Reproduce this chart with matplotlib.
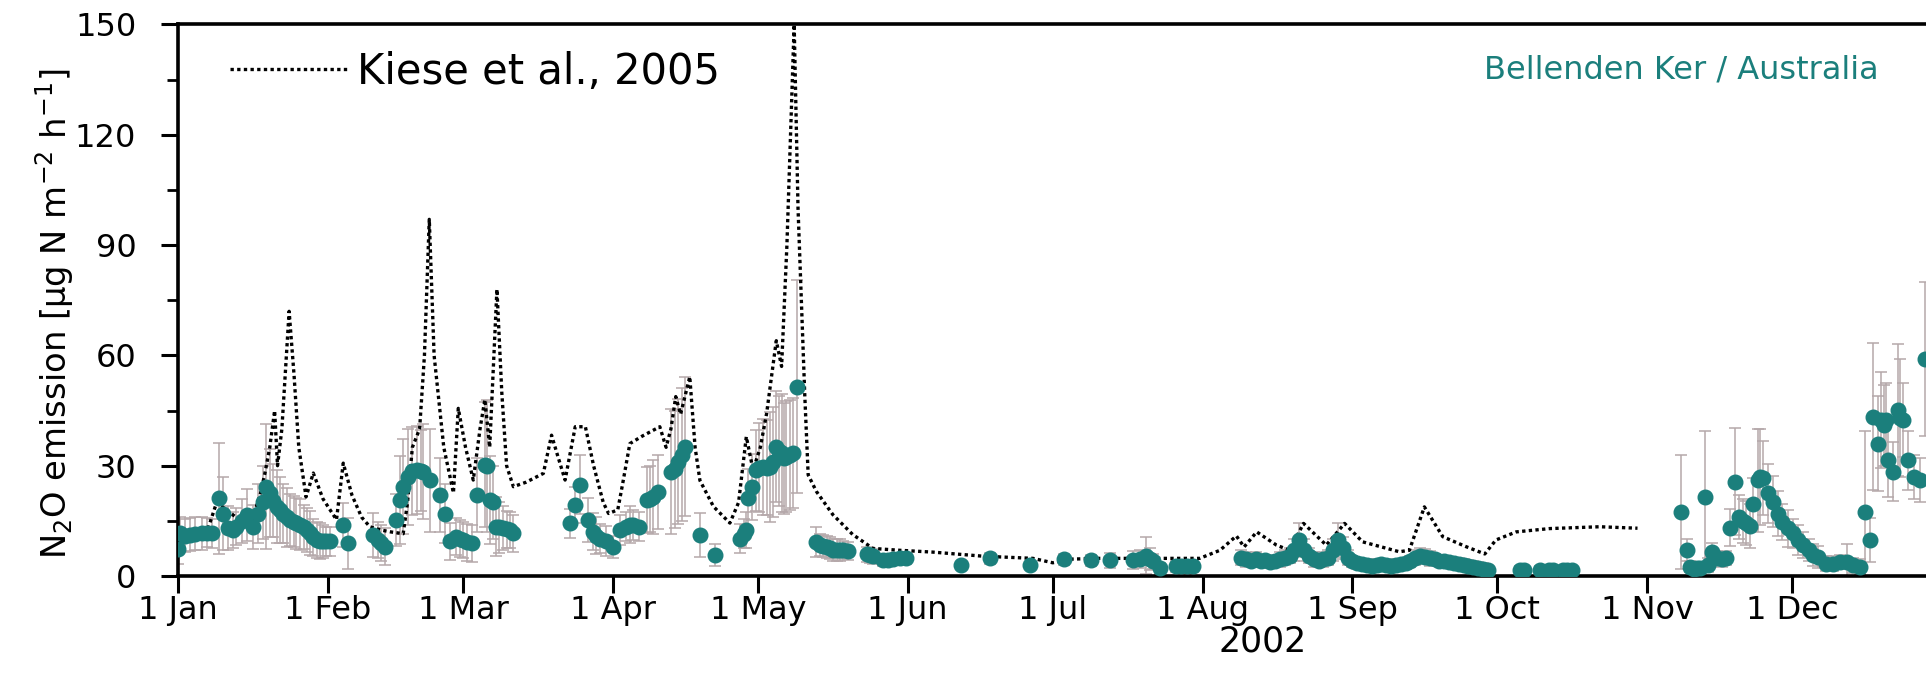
import matplotlib
matplotlib.use("Agg")
import matplotlib.pyplot as plt
from matplotlib.ticker import MultipleLocator, FixedLocator

# --- Kiese et al. (2005) model output: day of year 2002 (0 = 1 Jan) and N2O flux
model_day = [0, 3, 6, 8, 10, 13, 15, 17, 18, 19, 20, 20.6, 21.5, 23, 24, 25, 26.5, 28, 30,
             32.8, 34.2, 36, 38, 39.7, 42, 44, 46.6, 47.5, 48.5, 50, 51, 52, 53, 55, 57, 58,
             59.5, 61.1, 62.5, 63.5, 64.5, 66, 67, 68, 69.4, 72, 75.6, 77.3, 78.5, 80.1, 82.2,
             84.3, 86, 88, 89.1, 91, 92, 93.5, 96, 99.7, 101, 102, 103, 104, 105.9, 107, 108,
             110.8, 114.2, 116, 117.6, 119, 120.5, 121.8, 123.8, 124.9, 126, 127.5, 128.3,
             129.7, 130.4, 132.1, 135.5, 139.6, 143.8, 149.3, 156.2, 166.5, 176.9, 181, 185,
             190.6, 203, 211.4, 215.6, 219, 220.6, 223.2, 227.3, 230, 232.9, 237.6, 241.4,
             245.1, 252.7, 254.8, 257.9, 261.7, 266.5, 270.4, 272.7, 276.9, 283.8, 294.2, 302]
model_flux = [12, 11, 12, 20, 18, 15, 14, 22, 28, 35, 45, 30, 40, 72, 55, 35, 21.5, 28, 21,
              15.3, 30.7, 22, 16, 13.4, 12.5, 12, 11.5, 20, 35, 40, 60, 97, 60, 35, 22.6, 45.6,
              35, 26.1, 40, 48, 35, 78, 50, 30, 24.3, 25.5, 27.9, 38.3, 33, 26.1, 40.6,
              40.6, 30, 20, 17, 18, 25, 36, 38, 40.6, 35, 40, 48.8, 44, 54.2, 35, 26,
              18.9, 14.4, 20, 37.9, 28.8, 35, 44.2, 64, 57, 90, 150, 100,
              49, 27.5, 23, 16.7, 11.3, 7.5, 7, 6.5, 5.4, 4.8, 3.6, 4.6,
              4.8, 4.8, 4.8, 7, 10.9, 7.9, 12, 8.4, 7, 14.3, 8.4, 14.3,
              9.3, 6.6, 7, 18.8, 10.7, 8, 6, 9.8, 12, 12.9, 13.4, 13]

# --- measured chamber fluxes (mean and standard deviation)
obs_day = [0, 0.5, 1.5, 2.5, 3.5, 4.9, 6, 7, 8.4, 9.4, 10.4, 11.3, 12.1, 13.2, 14.2, 15.6,
           16.6, 17.5, 18.3, 19, 19.7, 20.4, 21.1, 21.8, 22.5, 23.2, 24, 24.5, 25.3, 26, 26.7,
           27.3, 28, 28.7, 29.4, 30, 30.7, 31.4, 34.2, 35.2, 40.4, 41.4, 42.1, 42.8, 45.2,
           45.9, 46.6, 47.7, 48.5, 49.4, 50.2, 50.8, 52.1, 54.2, 55.2, 56.3, 57.6, 58.3, 59,
           59.8, 60.8, 61.8, 63.5, 64, 64.5, 65.2, 65.9, 66.5, 67.3, 68, 68.7, 69.4,
           81.1, 82.1, 83.2, 84.9, 85.9, 86.6, 87.3, 88.5, 90.1, 91.5, 92.8, 93.5, 94.2, 95.3,
           97, 97.6, 98.3, 99.4, 102.1, 102.8, 103.5, 104.2, 104.9, 108, 111.1, 116.3, 117.2,
           117.6, 117.9, 118.7, 119.7, 120.3, 121, 121.8, 122.5, 123.2, 123.8, 124.4, 124.9,
           125.4, 125.9, 126.6, 127.3, 128,
           132.1, 132.8, 133.5, 134.2, 134.9, 135.6, 136.3, 137, 137.6, 138.7, 142.5, 143.2,
           143.8, 145.9, 147, 148, 149.3, 150.7, 162.1, 168, 176.2, 183.3, 189, 192.8, 197.7,
           199, 200.4, 201.1, 201.8, 203.2, 206.6, 207.6, 208.7, 210,
           220, 221, 222, 223, 224, 225, 226, 227, 228, 229, 230, 231, 232, 233, 234, 235, 236,
           237, 238, 239, 240, 241, 242, 243, 244, 245, 246, 247, 248, 249, 250, 251, 252, 253,
           254, 255, 256, 257, 258, 259, 260, 261, 262, 263, 264, 265, 266, 267, 268, 269, 270,
           271,
           277.7, 278.5, 281.8, 283.7, 284.5, 286.5, 287.5, 288.5,
           311.1, 312.2, 312.9, 313.6, 314.3, 315, 316, 316.5, 317.4, 318.4, 319.4, 320.4,
           321.1, 322.1, 323.1, 323.8, 324.5, 325.2, 325.8, 326.9, 327.4, 327.9, 328.9, 330,
           331, 332, 333.2, 334.2, 335.3, 336.3, 337.4, 338.4, 339.4, 341.1, 342.5, 343.9,
           345.3, 346.6, 348, 349, 350.1, 350.7, 351.7, 352.4, 353, 353.4, 353.8, 354.9,
           355.9, 356.3, 356.9, 357.9, 359.3, 360.4, 361.4]
obs_flux = [7.4, 11.6, 11, 11.2, 11.5, 11.6, 11.8, 11.6, 21.1, 17, 13, 12.5, 13.4, 15, 16.6, 13.4,
            17, 20, 24.3, 22.5, 20.5, 18.9, 18, 17, 16, 15.2, 14.8, 14.3, 14, 13.4, 12.5,
            11.6, 10.5, 9.8, 9.5, 9.4, 9.4, 9.4, 13.9, 8.9, 11.2, 9.8, 9, 8, 15.2,
            20.6, 24.3, 27, 28.5, 28.8, 28.6, 28.4, 26.1, 22, 17, 9.4, 10.7, 10.2, 9.8,
            9.2, 8.9, 22, 30.2, 30, 20.6, 20, 13.4, 13.2, 13, 12.7, 12.5, 11.6,
            14.3, 19.3, 24.8, 15.2, 12.1, 11, 10.2, 9.5, 7.9, 12.5, 13.4, 14, 13.9, 13.4,
            20.6, 21, 21.5, 22.9, 28.4, 29, 31.1, 33, 35.2, 11.2, 5.7, 10.2, 11.5,
            12.5, 21.1, 24.3, 28.8, 29.5, 29.7, 29.5, 29.7, 31, 35.2, 34, 33.4,
            32, 32.5, 33, 33.4, 51.5,
            9.2, 8.5, 8.1, 7.8, 7.5, 7.2, 7, 7, 7, 6.8, 5.9, 5.6,
            5.4, 4.3, 4.4, 4.6, 4.8, 4.8, 2.9, 4.8, 2.9, 4.5, 4.3, 4.3, 4.3,
            4.6, 5.5, 4.5, 4, 2.1, 2.6, 2.6, 2.6, 2.6,
            5, 4.5, 4.2, 4.5, 4, 4.3, 3.8, 4.2, 4.5, 5, 5.5, 7, 9.8, 7, 5.5, 4.5, 4,
            4.5, 5, 7, 9.8, 7.5, 5, 4, 3.5, 3.2, 3, 2.8, 3, 3.2, 3, 2.8, 3, 3.2,
            3.5, 4, 5, 5.5, 5.3, 4.8, 4.5, 4.2, 4, 3.8, 3.5, 3.3, 3, 2.8, 2.5, 2.2, 2,
            1.5,
            1.6, 1.7, 1.6, 1.7, 1.6, 1.6, 1.7, 1.6,
            17.3, 7, 2.5, 2, 2.2, 2.3, 21.5, 3, 6.5, 4.9, 4.5, 4.9,
            13.1, 25.7, 16.1, 15, 14.3, 13.5, 19.7, 26.1, 27, 26.6, 22.5, 20.2,
            17, 14.7, 13, 11.6, 9.8, 8.4, 7.1, 5.7, 5.2, 3.4, 3.4, 3.8,
            3.8, 2.9, 2.5, 17.5, 9.8, 43.3, 36, 42.4, 41, 42.4, 31.5, 28.4,
            45.2, 43, 42.4, 31.5, 27, 26.1, 59.1]
obs_sd = [4, 4.5, 4.5, 4.5, 4.5, 4.5, 4, 4, 15, 10, 6, 5, 5, 6, 7, 6,
          8, 10, 17, 12, 10, 10, 9, 8, 8, 7, 7, 7, 7, 6, 6,
          6, 5, 5, 5, 4.5, 4, 4, 6, 7, 6, 5, 5, 5, 7,
          12, 13, 13, 12, 12, 11, 13, 14, 10, 8, 5, 5, 5, 5,
          5, 5, 10, 17, 18, 12, 10, 8, 7, 6, 5, 5, 5,
          4, 5, 8, 6, 5, 5, 4, 4, 3, 4, 4, 5, 4, 4,
          9, 9, 10, 10, 17, 16, 17, 18, 19, 6, 3, 4, 4,
          5, 8, 9, 11, 12, 13, 13, 15, 15, 15, 15, 16,
          15, 15, 15, 15, 29,
          4, 3, 3, 3, 3, 3, 3, 3, 2.5, 2.5, 2, 2,
          2, 1.5, 1.5, 1.5, 1.5, 1.5, 1, 1.5, 1, 1.5, 1.5, 2, 2.5,
          2.5, 5, 3, 2, 1.5, 1.5, 1.5, 1.5, 1.5,
          2, 2, 1.5, 2, 1.5, 1.5, 1.5, 1.5, 2, 2, 2, 3, 4.5, 3, 2, 2, 1.5,
          2, 2, 3, 4.5, 3, 2, 1.5, 1.5, 1.5, 1.5, 1.5, 1.5, 1.5, 1.5, 1.5, 1.5, 1.5,
          1.5, 1.5, 2, 2, 2, 2, 1.5, 1.5, 1.5, 1.5, 1.5, 1.5, 1.5, 1.5, 1.5, 1.5, 1.5,
          1,
          1, 1, 1, 1, 1, 1, 1, 1,
          15.5, 3, 1.5, 1.5, 1.5, 1.5, 18, 2, 2.5, 2, 2, 2,
          5, 14.5, 6, 6, 6, 6, 7, 14, 13, 10, 8, 7,
          6, 5, 5, 4, 4, 3.5, 3, 3, 3, 2, 2, 2,
          5, 2, 2, 22, 6, 20, 13, 13, 11, 10, 10, 8,
          18, 16, 10, 8, 6, 6, 21]

month_start = [0, 31, 59, 90, 120, 151, 181, 212, 243, 273, 304, 334]
month_labels = ["1 Jan", "1 Feb", "1 Mar", "1 Apr", "1 May", "1 Jun",
                "1 Jul", "1 Aug", "1 Sep", "1 Oct", "1 Nov", "1 Dec"]

TEAL = "#1b7f7c"
BAR = "#b5a8aa"

plt.rcParams["font.family"] = ["DejaVu Sans"]

fig = plt.figure(figsize=(19.26, 6.90), dpi=100)
ax = fig.add_axes([0.0924, 0.1652, 0.9159, 0.7993])

ax.errorbar(obs_day, obs_flux, yerr=obs_sd, fmt="none", ecolor=BAR,
            elinewidth=1.1, capsize=4, capthick=1.1, zorder=2)
model_line, = ax.plot(model_day, model_flux, color="black", lw=2.4,
                      linestyle=(0, (1, 1)), zorder=3, label="Kiese et al., 2005")
ax.plot(obs_day, obs_flux, "o", color=TEAL, markeredgecolor=TEAL,
        markersize=10.5, zorder=4)

ax.set_xlim(0, 365)
ax.set_ylim(0, 150)

ax.xaxis.set_major_locator(FixedLocator(month_start))
ax.set_xticklabels(month_labels)
ax.yaxis.set_major_locator(MultipleLocator(30))
ax.yaxis.set_minor_locator(MultipleLocator(15))

ax.tick_params(axis="x", which="major", direction="out", length=12, width=2.2,
               labelsize=23, pad=2, colors="black")
ax.tick_params(axis="y", which="major", direction="out", length=12, width=2.2,
               labelsize=23, pad=18, colors="black")
ax.tick_params(axis="y", which="minor", direction="out", length=8, width=2.0)
ax.tick_params(axis="x", which="minor", length=0)
ax.tick_params(top=False, right=False)

for side in ("left", "bottom", "top", "right"):
    ax.spines[side].set_linewidth(2.6)

ax.set_ylabel(r"N$_2$O emission [µg N m$^{-2}$ h$^{-1}$]", fontsize=24.3)
ax.yaxis.set_label_coords(-0.058, 0.475)
ax.set_xlabel("2002", fontsize=25)
ax.xaxis.set_label_coords(0.615, -0.088)

leg = ax.legend(handles=[model_line], loc="upper left", frameon=False,
                fontsize=30, handlelength=2.8, handletextpad=0.25,
                bbox_to_anchor=(0.013, 1.005), borderaxespad=0.3)

ax.text(0.9643, 0.9175, "Bellenden Ker / Australia", color=TEAL, fontsize=23,
        transform=ax.transAxes, ha="right", va="center")

fig.savefig("out.png", dpi=100)
